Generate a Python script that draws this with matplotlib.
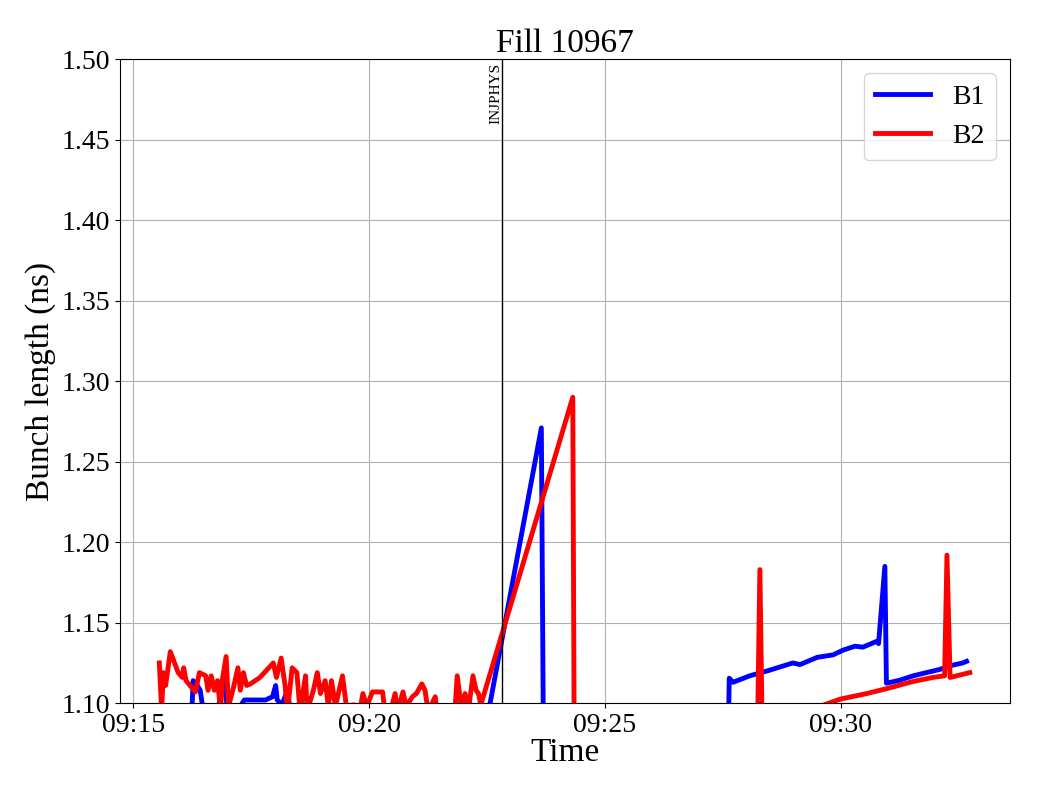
import datetime as dt
import matplotlib
matplotlib.use("Agg")
import matplotlib.pyplot as plt
import matplotlib.dates as mdates

plt.rcParams['font.family'] = ['Liberation Serif', 'DejaVu Serif']

day = "2024-01-01 "

# B1 bunch length (ns)
b1_time = ["09:15:34", "09:16:14", "09:16:16", "09:16:20", "09:16:25", "09:16:29",
           "09:16:48", "09:16:53", "09:16:57", "09:17:00", "09:17:16", "09:17:21",
           "09:17:41", "09:17:48", "09:17:57", "09:18:01", "09:18:03", "09:18:09",
           "09:18:16", "09:18:21", "09:22:30", "09:23:39", "09:23:42", "09:27:36",
           "09:27:38", "09:27:43", "09:28:04", "09:28:26", "09:28:59", "09:29:08",
           "09:29:30", "09:29:50", "09:30:03", "09:30:18", "09:30:28", "09:30:46",
           "09:30:48", "09:30:56", "09:30:58", "09:31:15", "09:31:32", "09:31:49",
           "09:32:06", "09:32:22", "09:32:35", "09:32:40"]
b1_len = [1.080, 1.090, 1.114, 1.112, 1.108, 1.095,
          1.095, 1.114, 1.108, 1.095, 1.098, 1.102,
          1.102, 1.102, 1.104, 1.111, 1.102, 1.099,
          1.108, 1.090, 1.090, 1.271, 1.050, 1.050,
          1.1155, 1.113, 1.117, 1.120, 1.125, 1.124,
          1.1285, 1.130, 1.133, 1.1354, 1.1348, 1.1385,
          1.137, 1.185, 1.1124, 1.1143, 1.117, 1.119,
          1.121, 1.1236, 1.125, 1.126]

# B2 bunch length (ns)
b2_time = ["09:15:33", "09:15:36", "09:15:38", "09:15:41", "09:15:47", "09:15:57",
           "09:16:02", "09:16:04", "09:16:07", "09:16:12", "09:16:19", "09:16:24",
           "09:16:32", "09:16:35", "09:16:39", "09:16:43", "09:16:47", "09:16:51",
           "09:16:53", "09:16:58", "09:17:01", "09:17:07", "09:17:13", "09:17:16",
           "09:17:20", "09:17:24", "09:17:29", "09:17:41", "09:17:58", "09:18:02",
           "09:18:08", "09:18:13", "09:18:16", "09:18:22", "09:18:28", "09:18:32",
           "09:18:39", "09:18:41", "09:18:49", "09:18:54", "09:18:58", "09:19:04",
           "09:19:08", "09:19:12", "09:19:17", "09:19:26", "09:19:31", "09:19:40",
           "09:19:49", "09:19:52", "09:19:57", "09:20:04", "09:20:17", "09:20:20",
           "09:20:27", "09:20:33", "09:20:36", "09:20:43", "09:20:47", "09:20:55",
           "09:21:00", "09:21:07", "09:21:11", "09:21:15", "09:21:24", "09:21:26",
           "09:21:49", "09:21:52", "09:21:57", "09:22:02", "09:22:06", "09:22:12",
           "09:22:16", "09:22:19", "09:22:22", "09:24:19", "09:24:21", "09:28:13",
           "09:28:17", "09:28:21", "09:29:33", "09:29:59", "09:30:33", "09:30:58",
           "09:31:32", "09:31:57", "09:32:12", "09:32:15", "09:32:19", "09:32:44"]
b2_len = [1.125, 1.095, 1.119, 1.111, 1.132, 1.119,
          1.116, 1.122, 1.114, 1.111, 1.107, 1.119,
          1.117, 1.108, 1.117, 1.108, 1.114, 1.095,
          1.114, 1.129, 1.098, 1.109, 1.122, 1.108,
          1.119, 1.111, 1.112, 1.116, 1.125, 1.116,
          1.128, 1.111, 1.095, 1.122, 1.119, 1.095,
          1.117, 1.095, 1.108, 1.119, 1.106, 1.114,
          1.098, 1.114, 1.098, 1.117, 1.098, 1.099,
          1.098, 1.106, 1.098, 1.107, 1.107, 1.095,
          1.095, 1.106, 1.095, 1.107, 1.098, 1.104,
          1.106, 1.112, 1.108, 1.095, 1.104, 1.095,
          1.095, 1.117, 1.098, 1.106, 1.095, 1.117,
          1.108, 1.106, 1.099, 1.290, 1.050, 1.050,
          1.183, 1.050, 1.098, 1.1025, 1.106, 1.109,
          1.1135, 1.116, 1.117, 1.192, 1.116, 1.119]

# Beam mode change
mode_time = "09:22:49"
mode_name = "INJPHYS"

# time window shown
t_start = "09:14:43"
t_end = "09:33:35"

def to_dt(ts):
    return [dt.datetime.strptime(day + t, "%Y-%m-%d %H:%M:%S") for t in ts]

fig, ax = plt.subplots(figsize=(10.4, 8), dpi=100)
fig.subplots_adjust(left=0.1154, right=0.971, bottom=0.121, top=0.926)

ax.plot(to_dt(b1_time), b1_len, color='blue', lw=3.5, label='B1')
ax.plot(to_dt(b2_time), b2_len, color='red', lw=3.5, label='B2')

ax.set_xlim(to_dt([t_start, t_end]))
ax.set_ylim(1.10, 1.50)

# mode line and label
tm = to_dt([mode_time])[0]
ax.axvline(tm, color='black', lw=1)
ax.text(tm, 1.498, mode_name, rotation=90, ha='right', va='top', fontsize=11)

ax.xaxis.set_major_locator(mdates.MinuteLocator(byminute=range(0, 60, 5)))
ax.xaxis.set_major_formatter(mdates.DateFormatter('%H:%M'))
ax.set_yticks([1.10, 1.15, 1.20, 1.25, 1.30, 1.35, 1.40, 1.45, 1.50])
ax.tick_params(labelsize=20)
ax.grid(True)

ax.set_xlabel('Time', fontsize=24, labelpad=0)
ax.set_ylabel('Bunch length (ns)', fontsize=24)
ax.set_title('Fill 10967', fontsize=24, pad=4)
ax.legend(loc='upper right', fontsize=20)

fig.savefig('out.png')
